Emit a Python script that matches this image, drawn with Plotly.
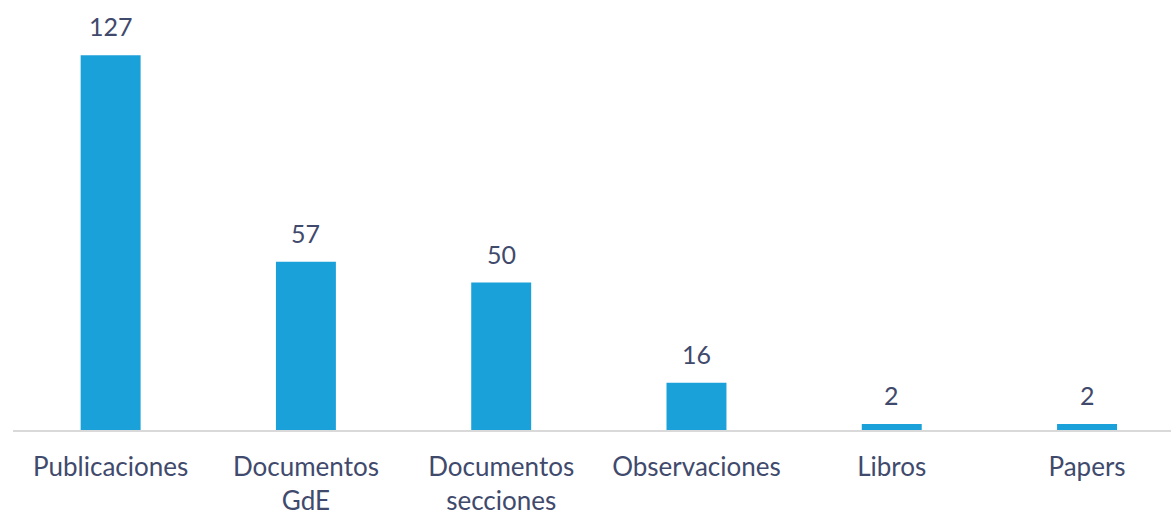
import plotly.graph_objects as go

categories = ["Publicaciones", "Documentos<br>GdE", "Documentos<br>secciones", "Observaciones", "Libros", "Papers"]
values = [127, 57, 50, 16, 2, 2]

BAR_COLOR = "#1BA1DA"
TEXT_COLOR = "#3F4A6C"
FONT = "Lato"

fig = go.Figure(go.Bar(
    x=list(range(len(categories))),
    y=values,
    width=0.307,
    marker=dict(color=BAR_COLOR, line=dict(width=0)),
    hoverinfo="skip",
))

for i, v in enumerate(values):
    fig.add_annotation(
        x=i, y=v, text=str(v), showarrow=False,
        yanchor="bottom", yshift=12,
        font=dict(family=FONT, size=25, color=TEXT_COLOR),
    )

fig.update_layout(
    width=1171, height=515,
    margin=dict(l=13, r=0, t=17, b=85),
    paper_bgcolor="white", plot_bgcolor="white",
    showlegend=False,
    xaxis=dict(
        range=[-0.5, 5.43],
        tickmode="array",
        tickvals=list(range(len(categories))),
        ticktext=categories,
        showline=True, linecolor="#D9D9D9", linewidth=2,
        showgrid=False, zeroline=False, ticks="",
        ticklabelstandoff=13,
        tickfont=dict(family=FONT, size=26, color=TEXT_COLOR),
    ),
    yaxis=dict(
        range=[0, 140], visible=False, showgrid=False, zeroline=False,
    ),
)

fig.write_html(
    "out.html",
    config={"displayModeBar": False, "staticPlot": True},
    post_script="document.body.style.margin='0';",
)
